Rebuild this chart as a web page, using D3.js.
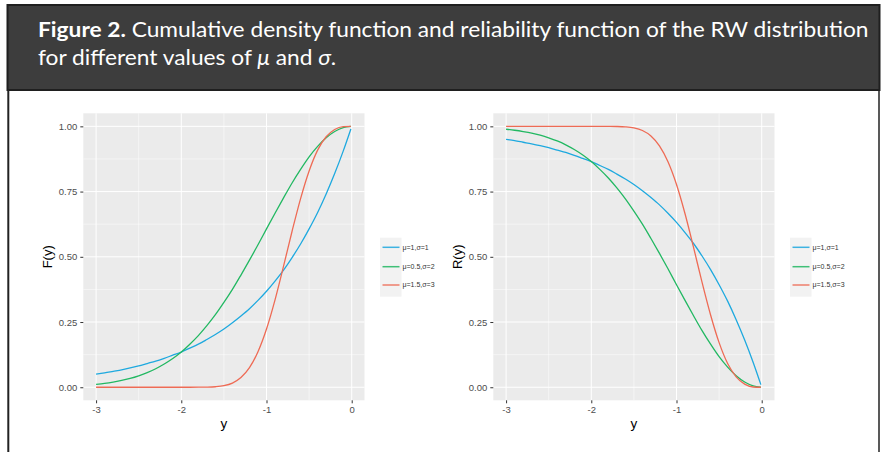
<!DOCTYPE html>
<html>
<head>
<meta charset="utf-8">
<script src="https://cdn.jsdelivr.net/npm/d3@7"></script>
<style>
  html, body { margin: 0; padding: 0; background: #ffffff; }
  svg { display: block; }
</style>
</head>
<body>
<svg id="chart" width="882" height="452"></svg>
<script>
// ---------------- data ----------------
const yGrid = [-3.0, -2.9, -2.8, -2.7, -2.6, -2.5, -2.4, -2.3, -2.2, -2.1,
               -2.0, -1.9, -1.8, -1.7, -1.6, -1.5, -1.4, -1.3, -1.2, -1.1,
               -1.0, -0.9, -0.8, -0.7, -0.6, -0.5, -0.4, -0.3, -0.2, -0.1, -0.01];

const seriesLabels = ["\u03bc=1,\u03c3=1", "\u03bc=0.5,\u03c3=2", "\u03bc=1.5,\u03c3=3"];
const seriesColors = ["#1ea9df", "#22b862", "#ee6b55"];

// F(y) panel
const cdfS1 = [0.050, 0.055, 0.061, 0.067, 0.074, 0.082, 0.091, 0.100, 0.111, 0.123,
               0.135, 0.150, 0.165, 0.183, 0.202, 0.223, 0.247, 0.273, 0.301, 0.333,
               0.368, 0.407, 0.449, 0.497, 0.549, 0.607, 0.670, 0.741, 0.819, 0.905, 0.990];
const cdfS2 = [0.011, 0.015, 0.020, 0.026, 0.034, 0.044, 0.056, 0.071, 0.089, 0.110,
               0.135, 0.165, 0.198, 0.236, 0.278, 0.325, 0.375, 0.430, 0.487, 0.546,
               0.607, 0.667, 0.726, 0.783, 0.835, 0.883, 0.923, 0.956, 0.980, 0.995, 1.000];
const cdfS3 = [0.000, 0.000, 0.000, 0.000, 0.000, 0.000, 0.000, 0.000, 0.000, 0.000,
               0.000, 0.000, 0.0002, 0.0006, 0.002, 0.006, 0.016, 0.037, 0.075, 0.136,
               0.223, 0.335, 0.464, 0.598, 0.723, 0.829, 0.909, 0.960, 0.988, 0.999, 1.000];

// R(y) panel
const relS1 = [0.950, 0.945, 0.939, 0.933, 0.926, 0.918, 0.909, 0.900, 0.889, 0.877,
               0.865, 0.850, 0.835, 0.817, 0.798, 0.777, 0.753, 0.727, 0.699, 0.667,
               0.632, 0.593, 0.551, 0.503, 0.451, 0.393, 0.330, 0.259, 0.181, 0.095, 0.010];
const relS2 = [0.989, 0.985, 0.980, 0.974, 0.966, 0.956, 0.944, 0.929, 0.911, 0.890,
               0.865, 0.835, 0.802, 0.764, 0.722, 0.675, 0.625, 0.570, 0.513, 0.454,
               0.393, 0.333, 0.274, 0.217, 0.165, 0.117, 0.077, 0.044, 0.020, 0.005, 0.000];
const relS3 = [1.000, 1.000, 1.000, 1.000, 1.000, 1.000, 1.000, 1.000, 1.000, 1.000,
               1.000, 1.000, 0.9998, 0.9994, 0.998, 0.994, 0.984, 0.963, 0.925, 0.864,
               0.777, 0.665, 0.536, 0.402, 0.277, 0.171, 0.091, 0.040, 0.012, 0.001, 0.000];

const xTicks = [-3, -2, -1, 0];
const xMinor = [-2.5, -1.5, -0.5];
const yTicks = [0, 0.25, 0.5, 0.75, 1];
const yMinor = [0.125, 0.375, 0.625, 0.875];

const titleBold = "Figure 2.";
const titleRest = " Cumulative density function and reliability function of the RW distribution";

// ---------------- drawing ----------------
const svg = d3.select("#chart");
svg.append("rect").attr("width", 882).attr("height", 452).attr("fill", "#ffffff");

// frame
svg.append("rect").attr("x", 7.5).attr("y", 5).attr("width", 872).attr("height", 85)
  .attr("fill", "#3d3d3d").attr("stroke", "#1f1f1f").attr("stroke-width", 2);
svg.append("line").attr("x1", 8.3).attr("x2", 8.3).attr("y1", 90).attr("y2", 452)
  .attr("stroke", "#222").attr("stroke-width", 2);
svg.append("line").attr("x1", 879).attr("x2", 879).attr("y1", 90).attr("y2", 452)
  .attr("stroke", "#222").attr("stroke-width", 1.5);

// title
const tFont = "Lato, 'Open Sans', sans-serif";
const t1 = svg.append("text").attr("font-family", tFont).attr("font-size", 21).attr("fill", "#ffffff");
t1.append("tspan").attr("font-weight", "bold").text(titleBold);
t1.append("tspan").attr("font-weight", "normal").text(titleRest);
const w1 = t1.node().getComputedTextLength();
const sx = 831 / w1;
t1.attr("transform", `translate(38,37) scale(${sx},1)`);

const t2 = svg.append("text").attr("font-family", tFont).attr("font-size", 21).attr("fill", "#ffffff")
  .attr("transform", `translate(38,65) scale(${sx},1)`);
t2.append("tspan").text("for different values of ");
t2.append("tspan").attr("font-style", "italic").text("\u03bc");
t2.append("tspan").text(" and ");
t2.append("tspan").attr("font-style", "italic").text("\u03c3");
t2.append("tspan").text(".");

const cFont = "'Liberation Sans', Arial, sans-serif";

function drawPanel(offX, yTitle, seriesList) {
  const left = 83.3 + offX, right = 364.5 + offX, top = 113.3, bottom = 400.3;
  const x = d3.scaleLinear().domain([-3.15, 0.15]).range([left, right]);
  const y = d3.scaleLinear().domain([-0.05, 1.05]).range([bottom, top]);
  const g = svg.append("g");

  g.append("rect").attr("x", left).attr("y", top).attr("width", right - left)
    .attr("height", bottom - top).attr("fill", "#ebebeb");

  // minor grid
  g.selectAll(".xmin").data(xMinor).enter().append("line")
    .attr("x1", d => x(d)).attr("x2", d => x(d)).attr("y1", top).attr("y2", bottom)
    .attr("stroke", "#ffffff").attr("stroke-width", 0.5);
  g.selectAll(".ymin").data(yMinor).enter().append("line")
    .attr("y1", d => y(d)).attr("y2", d => y(d)).attr("x1", left).attr("x2", right)
    .attr("stroke", "#ffffff").attr("stroke-width", 0.5);
  // major grid
  g.selectAll(".xmaj").data(xTicks).enter().append("line")
    .attr("x1", d => x(d)).attr("x2", d => x(d)).attr("y1", top).attr("y2", bottom)
    .attr("stroke", "#ffffff").attr("stroke-width", 1);
  g.selectAll(".ymaj").data(yTicks).enter().append("line")
    .attr("y1", d => y(d)).attr("y2", d => y(d)).attr("x1", left).attr("x2", right)
    .attr("stroke", "#ffffff").attr("stroke-width", 1);

  // lines
  const clipId = "clip" + offX;
  svg.append("clipPath").attr("id", clipId).append("rect")
    .attr("x", left).attr("y", top).attr("width", right - left).attr("height", bottom - top);
  const line = d3.line().x((d, i) => x(yGrid[i])).y(d => y(d)).curve(d3.curveMonotoneX);
  seriesList.forEach((vals, k) => {
    g.append("path").attr("d", line(vals)).attr("fill", "none")
      .attr("stroke", seriesColors[k]).attr("stroke-width", 1.3)
      .attr("clip-path", `url(#${clipId})`);
  });

  // axes
  const ax = g.append("g").attr("transform", `translate(0,${bottom})`)
    .call(d3.axisBottom(x).tickValues(xTicks).tickFormat(d => String(d)).tickSize(3).tickPadding(3));
  const ay = g.append("g").attr("transform", `translate(${left},0)`)
    .call(d3.axisLeft(y).tickValues(yTicks).tickFormat(d3.format(".2f")).tickSize(3).tickPadding(3));
  [ax, ay].forEach(a => {
    a.select(".domain").remove();
    a.selectAll(".tick line").attr("stroke", "#333333");
    a.selectAll(".tick text").attr("fill", "#4d4d4d").attr("font-size", 9.5).attr("font-family", cFont);
  });

  // axis titles
  g.append("text").attr("x", (left + right) / 2).attr("y", 428).attr("text-anchor", "middle")
    .attr("font-family", cFont).attr("font-size", 13.5).attr("fill", "#000").text("y");
  g.append("text").attr("transform", `translate(${51.5 + offX},${(top + bottom) / 2}) rotate(-90)`)
    .attr("text-anchor", "middle").attr("font-family", cFont).attr("font-size", 13)
    .attr("fill", "#000").text(yTitle);

  // legend
  const lx = right + 15.5, ly = 237.7;
  g.append("rect").attr("x", lx).attr("y", ly).attr("width", 21.5).attr("height", 59)
    .attr("fill", "#f2f2f2");
  const rowsY = [247.3, 266.7, 285];
  seriesLabels.forEach((lab, k) => {
    g.append("line").attr("x1", lx + 2.5).attr("x2", lx + 19.5)
      .attr("y1", rowsY[k]).attr("y2", rowsY[k])
      .attr("stroke", seriesColors[k]).attr("stroke-width", 1.5).attr("opacity", 0.85);
    g.append("text").attr("x", lx + 22.5).attr("y", rowsY[k]).attr("dy", "0.35em")
      .attr("font-family", cFont).attr("font-size", 7).attr("fill", "#333333").text(lab);
  });
}

drawPanel(0, "F(y)", [cdfS1, cdfS2, cdfS3]);
drawPanel(410, "R(y)", [relS1, relS2, relS3]);
</script>
</body>
</html>
